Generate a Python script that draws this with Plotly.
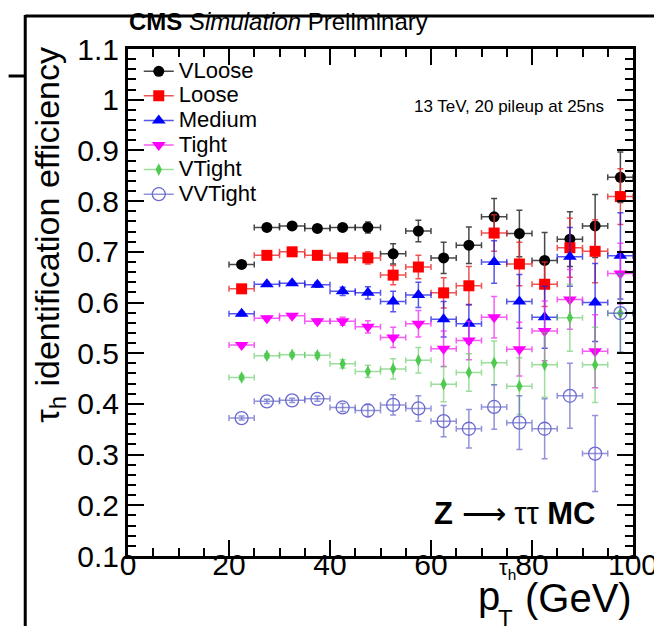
import plotly.graph_objects as go

# ---------------- data ----------------
pt_bins = [22.5, 27.5, 32.5, 37.5, 42.5, 47.5, 52.5, 57.5,
           62.5, 67.5, 72.5, 77.5, 82.5, 87.5, 92.5, 97.5]
bin_half_width = [2.5] * 16

vloose = [0.675, 0.748, 0.751, 0.746, 0.748, 0.748, 0.696, 0.741,
          0.688, 0.713, 0.769, 0.736, 0.683, 0.725, 0.751, 0.847]
vloose_err = [0.004, 0.004, 0.004, 0.004, 0.006, 0.011, 0.020, 0.021,
              0.031, 0.036, 0.036, 0.046, 0.055, 0.054, 0.062, 0.050]

loose = [0.627, 0.693, 0.700, 0.693, 0.688, 0.688, 0.654, 0.670,
         0.619, 0.633, 0.737, 0.676, 0.636, 0.708, 0.701, 0.809]
loose_err = [0.004, 0.004, 0.004, 0.005, 0.007, 0.012, 0.019, 0.023,
             0.030, 0.038, 0.036, 0.043, 0.044, 0.058, 0.062, 0.055]

medium = [0.578, 0.636, 0.638, 0.635, 0.622, 0.619, 0.602, 0.615,
          0.567, 0.558, 0.680, 0.602, 0.571, 0.690, 0.600, 0.692]
medium_err = [0.004, 0.004, 0.004, 0.005, 0.008, 0.012, 0.020, 0.025,
              0.035, 0.038, 0.042, 0.053, 0.061, 0.058, 0.077, 0.085]

tight = [0.516, 0.569, 0.574, 0.563, 0.563, 0.552, 0.531, 0.558,
         0.509, 0.525, 0.571, 0.508, 0.544, 0.606, 0.504, 0.657]
tight_err = [0.004, 0.004, 0.004, 0.005, 0.008, 0.012, 0.020, 0.026,
             0.035, 0.038, 0.041, 0.053, 0.059, 0.059, 0.072, 0.060]

vtight = [0.452, 0.495, 0.497, 0.496, 0.479, 0.464, 0.469, 0.486,
          0.439, 0.462, 0.481, 0.435, 0.477, 0.570, 0.477, 0.579]
vtight_err = [0.004, 0.004, 0.004, 0.005, 0.008, 0.012, 0.020, 0.025,
              0.035, 0.037, 0.043, 0.056, 0.064, 0.066, 0.074, 0.077]

vvtight = [0.372, 0.405, 0.407, 0.410, 0.393, 0.387, 0.398, 0.391,
           0.366, 0.351, 0.394, 0.363, 0.351, 0.416, 0.302, 0.579]
vvtight_err = [0.004, 0.004, 0.004, 0.005, 0.008, 0.012, 0.020, 0.025,
               0.031, 0.038, 0.044, 0.053, 0.059, 0.064, 0.075, 0.077]

series_names = ["VLoose", "Loose", "Medium", "Tight", "VTight", "VVTight"]
series_values = [vloose, loose, medium, tight, vtight, vvtight]
series_errors = [vloose_err, loose_err, medium_err, tight_err, vtight_err, vvtight_err]

x_tick_vals = [0, 20, 40, 60, 80, 100]
y_tick_vals = [0.1, 0.2, 0.3, 0.4, 0.5, 0.6, 0.7, 0.8, 0.9, 1.0, 1.1]
y_tick_text = ["0.1", "0.2", "0.3", "0.4", "0.5", "0.6", "0.7", "0.8", "0.9", "1", "1.1"]

# ---------------- styles ----------------
styles = [
    dict(symbol="circle", size=11, color="#000000", line=dict(width=0), bar="rgba(40,40,40,0.85)"),
    dict(symbol="square", size=11, color="#ff0000", line=dict(width=0), bar="rgba(235,40,40,0.8)"),
    dict(symbol="triangle-up", size=12, color="#0000ff", line=dict(width=0), bar="rgba(30,30,230,0.75)"),
    dict(symbol="triangle-down", size=12, color="#ff00ff", line=dict(width=0), bar="rgba(240,40,240,0.75)"),
    dict(symbol="diamond-tall", size=9, color="#4fc94f", line=dict(width=0), bar="rgba(90,200,90,0.6)"),
    dict(symbol="circle-open", size=13, color="#6a6ad2", line=dict(width=1.3, color="#6a6ad2"), bar="rgba(100,100,200,0.7)"),
]

fig = go.Figure()

for name, vals, errs, st in zip(series_names, series_values, series_errors, styles):
    fig.add_trace(go.Scatter(
        x=pt_bins, y=vals, mode="markers", name=name, showlegend=False,
        marker=dict(symbol=st["symbol"], size=st["size"], color=st["color"], line=st["line"]),
        error_y=dict(type="data", array=errs, visible=True, color=st["bar"], thickness=1.5, width=3),
        error_x=dict(type="data", array=bin_half_width, visible=True, color=st["bar"], thickness=1.5, width=3),
    ))

# legend entries
for name, st in zip(series_names, styles):
    fig.add_trace(go.Scatter(
        x=[None], y=[None], mode="lines+markers",
        name='<span style="font-size:22px">' + name + '</span>',
        marker=dict(symbol=st["symbol"], size=st["size"], color=st["color"], line=st["line"]),
        line=dict(color=st["bar"], width=1.5),
    ))

# ---------------- layout ----------------
W, H = 662, 626
L, R, T, B = 120, 26, 41, 78
pw, ph = W - L - R, H - T - B


def px(xp):
    return (xp - L) / pw


def py(yp):
    return (H - B - yp) / ph


font_family = "Liberation Sans, Arial, Helvetica, sans-serif"

axis_common = dict(
    showgrid=False, zeroline=False, showline=True, linecolor="black", linewidth=3,
    mirror="allticks", ticks="inside", ticklen=16, tickwidth=1.5, tickcolor="black",
    tickfont=dict(family=font_family, size=30, color="black"),
)

fig.update_xaxes(
    range=[0, 100], tickvals=x_tick_vals, ticktext=[str(v) for v in x_tick_vals],
    ticklabelstandoff=-20,
    minor=dict(dtick=5, ticks="inside", ticklen=8, tickwidth=1.5, tickcolor="black"),
    **axis_common,
)
fig.update_yaxes(
    range=[0.1, 1.1], tickvals=y_tick_vals, ticktext=y_tick_text,
    minor=dict(dtick=0.02, tick0=0.1, ticks="inside", ticklen=8, tickwidth=1.5, tickcolor="black"),
    **axis_common,
)

annotations = [
    dict(x=px(119), y=py(14), xref="paper", yref="paper", xanchor="left", yanchor="middle",
         text="<b>CMS</b> <i>Simulation</i> Preliminary", showarrow=False,
         font=dict(family=font_family, size=24, color="black")),
    dict(x=px(608), y=py(98), xref="paper", yref="paper", xanchor="right", yanchor="middle",
         text="13 TeV, 20 pileup at 25ns", showarrow=False,
         font=dict(family=font_family, size=17, color="black")),
    dict(x=px(600), y=py(505), xref="paper", yref="paper", xanchor="right", yanchor="middle",
         text="<b>Z</b> ⟶ ττ <b>MC</b>", showarrow=False,
         font=dict(family=font_family, size=31, color="black")),
    # y-axis title
    dict(x=px(40), y=py(37), xref="paper", yref="paper", xanchor="center", yanchor="top",
         text="τ<sub>h</sub> identification efficiency", textangle=-90, showarrow=False,
         font=dict(family=font_family, size=34, color="black")),
    # x-axis title pieces
    dict(x=px(637), y=py(590), xref="paper", yref="paper", xanchor="right", yanchor="middle",
         text="(GeV)", showarrow=False, font=dict(family=font_family, size=40, color="black")),
    dict(x=px(502), y=py(588), xref="paper", yref="paper", xanchor="right", yanchor="middle",
         text="p", showarrow=False, font=dict(family=font_family, size=40, color="black")),
    dict(x=px(496), y=py(610), xref="paper", yref="paper", xanchor="left", yanchor="middle",
         text="T", showarrow=False, font=dict(family=font_family, size=24, color="black")),
    dict(x=px(497), y=py(561), xref="paper", yref="paper", xanchor="left", yanchor="middle",
         text="τ<sub>h</sub>", showarrow=False, font=dict(family=font_family, size=22, color="black")),
]

shapes = [
    dict(type="line", xref="paper", yref="paper", x0=px(15), x1=px(15), y0=py(7), y1=py(630),
         line=dict(color="black", width=3)),
    dict(type="line", xref="paper", yref="paper", x0=px(15), x1=px(664), y0=py(8), y1=py(8),
         line=dict(color="black", width=3)),
    dict(type="line", xref="paper", yref="paper", x0=px(-2), x1=px(15), y0=py(68), y1=py(68),
         line=dict(color="black", width=3)),
    dict(type="line", xref="paper", yref="paper", x0=px(660.5), x1=px(660.5), y0=py(9), y1=py(630),
         line=dict(color="#a0a0a0", width=1.5)),
]

fig.update_layout(
    width=W, height=H,
    margin=dict(l=L, r=R, t=T, b=B, pad=0),
    paper_bgcolor="white", plot_bgcolor="white",
    font=dict(family=font_family, color="black"),
    showlegend=True,
    legend=dict(x=px(131), y=py(46), xanchor="left", yanchor="top",
                bgcolor="rgba(0,0,0,0)", borderwidth=0,
                font=dict(family=font_family, size=16.6, color="black"),
                itemwidth=30, tracegroupgap=0),
    annotations=annotations,
    shapes=shapes,
)

fig.write_html("out.html")
